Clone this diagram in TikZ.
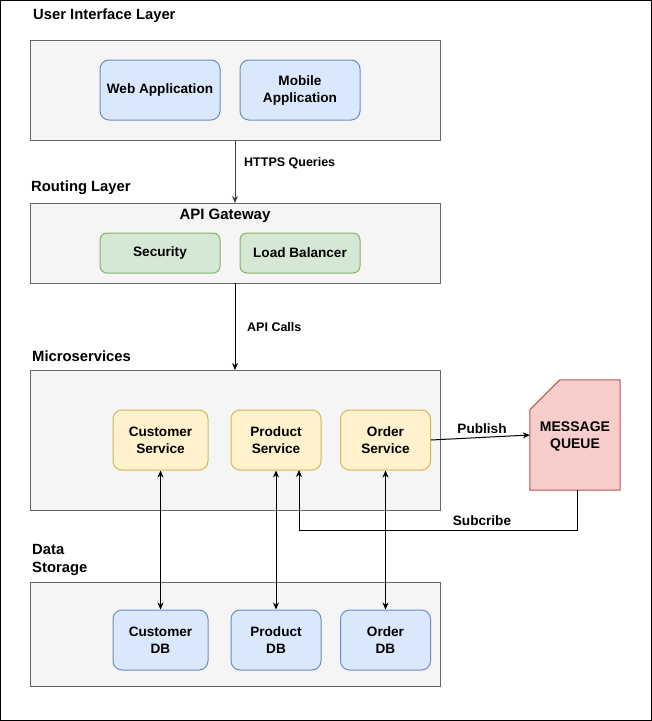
\documentclass[tikz,border=0pt]{standalone}
\usepackage{fontspec}
\setmainfont{Liberation Sans}
\usetikzlibrary{arrows.meta,calc}
\definecolor{grpfill}{HTML}{F5F5F5}
\definecolor{grpline}{HTML}{666666}
\definecolor{bluefill}{HTML}{DAE8FC}
\definecolor{blueline}{HTML}{6C8EBF}
\definecolor{greenfill}{HTML}{D5E8D4}
\definecolor{greenline}{HTML}{82B366}
\definecolor{yelfill}{HTML}{FFF2CC}
\definecolor{yelline}{HTML}{D6B656}
\definecolor{redfill}{HTML}{F8CECC}
\definecolor{redline}{HTML}{B85450}
\begin{document}
\begin{tikzpicture}[x=1pt,y=-1pt,
  every node/.style={font=\bfseries\fontsize{13.6}{17}\selectfont, inner sep=0pt, align=center},
  grp/.style={draw=grpline, fill=grpfill, line width=1pt},
  bluebox/.style={draw=blueline, fill=bluefill, line width=1pt, rounded corners=9pt, minimum height=60pt},
  greenbox/.style={draw=greenline, fill=greenfill, line width=1pt, rounded corners=7pt, minimum width=120pt, minimum height=40pt},
  yelbox/.style={draw=yelline, fill=yelfill, line width=1pt, rounded corners=9pt, minimum height=60pt},
  title/.style={anchor=west, font=\bfseries\fontsize{14.8}{18}\selectfont, align=left},
  lbl/.style={anchor=west, font=\bfseries\fontsize{12.5}{15}\selectfont},
  conn/.style={line width=1pt, -{Stealth[length=7pt,width=6pt]}},
  biconn/.style={line width=1pt, {Stealth[length=7pt,width=6pt]}-{Stealth[length=7pt,width=6pt]}}
]
\useasboundingbox (0,0) rectangle (652,721);
\draw[line width=1pt] (0.5,0.5) rectangle (651,720);

% group boxes
\node[grp, minimum width=410pt, minimum height=100pt] (uig) at (235,90) {};
\node[grp, minimum width=410pt, minimum height=80pt] (rtg) at (235,243) {};
\node[grp, minimum width=410pt, minimum height=140pt] (msg) at (235,440) {};
\node[grp, minimum width=410pt, minimum height=104pt] (dsg) at (235,634) {};

% titles
\node[title] (t1) at (33,16) {User Interface Layer};
\node[title] (t2) at (31,188) {Routing Layer};
\node[title] (t3) at (32,356) {Microservices};
\node[title] (t4) at (32,560) {Data\\Storage};

% UI layer
\node[bluebox, minimum width=120pt] (web) at (160,90) {Web Application};
\node[bluebox, minimum width=120pt] (mob) at (300,90) {Mobile\\Application};

% Routing layer
\node[font=\bfseries\fontsize{15}{18}\selectfont] (apigw) at (225,216) {API Gateway};
\node[greenbox] (sec) at (160,253) {Security};
\node[greenbox] (lb) at (300,253) {Load Balancer};

% Microservices
\node[yelbox, minimum width=95pt] (cs) at (160.5,440) {Customer\\Service};
\node[yelbox, minimum width=90pt] (ps) at (276,440) {Product\\Service};
\node[yelbox, minimum width=90pt] (os) at (385.5,440) {Order\\Service};

% Data storage
\node[bluebox, minimum width=95pt] (cdb) at (160.5,640) {Customer\\DB};
\node[bluebox, minimum width=90pt] (pdb) at (276,640) {Product\\DB};
\node[bluebox, minimum width=90pt] (odb) at (385.5,640) {Order\\DB};

% Message queue
\node[minimum width=90pt, minimum height=110pt] (mq) at (575,435) {};
\draw[draw=redline, fill=redfill, line width=1pt]
  ($(mq.north west)+(30,0)$) -- (mq.north east) -- (mq.south east) -- (mq.south west) -- ($(mq.north west)+(0,30)$) -- cycle;
\node[font=\bfseries\fontsize{14}{17}\selectfont] (mqt) at (575,436) {MESSAGE\\QUEUE};

% connectors
\coordinate (a1) at (235,140);
\coordinate (a2) at (235,203);
\draw[conn, draw=black!75] (a1) -- (a2);
\node[lbl] (hq) at (244,163) {HTTPS Queries};

\coordinate (b1) at (235,283);
\coordinate (b2) at (235,370);
\draw[conn] (b1) -- (b2);
\node[lbl] (ac) at (247,327) {API Calls};

\draw[biconn] (cs.south) -- (cdb.north);
\draw[biconn] (ps.south) -- (pdb.north);
\draw[biconn] (os.south) -- (odb.north);

\draw[conn] (os.east) -- (mq.west);
\node (pub) at (482,429) {Publish};

\coordinate (s1) at ($(mq.south)+(2,0)$);
\coordinate (s2) at (299,530);
\coordinate (s3) at (299,470);
\draw[conn] (s1) |- (s2) -- (s3);
\node (sub) at (482,521) {Subcribe};
\end{tikzpicture}
\end{document}
